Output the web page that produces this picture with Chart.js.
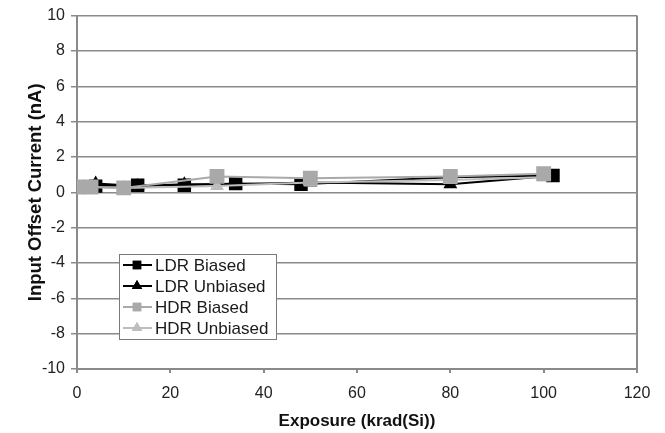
<!DOCTYPE html>
<html>
<head>
<meta charset="UTF-8">
<title>Input Offset Current</title>
<style>
  html, body { margin: 0; padding: 0; background: #fff; }
  #chart { display: block; }
</style>
</head>
<body>
<canvas id="chart" width="665" height="433"></canvas>
<script src="https://cdn.jsdelivr.net/npm/chart.js"></script>
<script>
// exposure (krad(Si)) and input offset current (nA) per series
const ldrBiasedX = [4, 13, 23, 34, 48, 80, 102];
const ldrBiasedY = [0.35, 0.4, 0.4, 0.5, 0.45, 0.85, 0.95];
const ldrUnbiasedX = [4, 13, 23, 34, 50, 80, 100];
const ldrUnbiasedY = [0.5, 0.35, 0.45, 0.45, 0.55, 0.45, 0.9];
const hdrBiasedX = [0, 3, 10, 30, 50, 80, 100];
const hdrBiasedY = [0.3, 0.3, 0.25, 0.9, 0.8, 0.9, 1.05];
const hdrUnbiasedX = [0, 3, 10, 30, 50, 80, 100];
const hdrUnbiasedY = [0.3, 0.3, 0.25, 0.35, 0.55, 0.7, 0.85];

const xTitle = 'Exposure (krad(Si))';
const yTitle = 'Input Offset Current (nA)';

function pts(xs, ys) {
    return xs.map((x, i) => ({ x: x, y: ys[i] }));
}

const gridGray = '#8a8a8a';
const black = '#000000';
const gray = '#a9a9a9';
const lightGray = '#bdbdbd';

// legend drawn inside the plot area, like the original
const boxLegend = {
    id: 'boxLegend',
    afterDatasetsDraw(chart) {
        const ctx = chart.ctx;
        const left = 119, top = 254, w = 157, h = 85;
        ctx.save();
        ctx.fillStyle = '#fff';
        ctx.fillRect(left, top, w, h);
        ctx.strokeStyle = '#7a7a7a';
        ctx.lineWidth = 1;
        ctx.strokeRect(left + 0.5, top + 0.5, w, h);
        ctx.font = '17px Arial, "Liberation Sans", sans-serif';
        ctx.textBaseline = 'middle';
        chart.data.datasets.forEach((ds, i) => {
            const y = top + 11 + i * 21;
            ctx.strokeStyle = ds.borderColor;
            ctx.lineWidth = 2;
            ctx.beginPath();
            ctx.moveTo(left + 4, y);
            ctx.lineTo(left + 33, y);
            ctx.stroke();
            ctx.fillStyle = ds.pointBackgroundColor;
            Chart.helpers.drawPoint(ctx, { pointStyle: ds.pointStyle, radius: 6, rotation: 0, borderWidth: 0 }, left + 18, y);
            ctx.fill();
            ctx.fillStyle = '#1a1a1a';
            ctx.fillText(ds.label, left + 36, y + 1);
        });
        ctx.restore();
    }
};

new Chart(document.getElementById('chart'), {
    type: 'scatter',
    data: {
        datasets: [
            { label: 'LDR Biased', data: pts(ldrBiasedX, ldrBiasedY), borderColor: black, backgroundColor: black,
              pointBackgroundColor: black, pointBorderColor: black, pointStyle: 'rect', pointRadius: 9.5, order: 4 },
            { label: 'LDR Unbiased', data: pts(ldrUnbiasedX, ldrUnbiasedY), borderColor: black, backgroundColor: black,
              pointBackgroundColor: black, pointBorderColor: black, pointStyle: 'triangle', pointRadius: 8, order: 3 },
            { label: 'HDR Biased', data: pts(hdrBiasedX, hdrBiasedY), borderColor: gray, backgroundColor: gray,
              pointBackgroundColor: gray, pointBorderColor: gray, pointStyle: 'rect', pointRadius: 10.5, order: 1 },
            { label: 'HDR Unbiased', data: pts(hdrUnbiasedX, hdrUnbiasedY), borderColor: lightGray, backgroundColor: lightGray,
              pointBackgroundColor: lightGray, pointBorderColor: lightGray, pointStyle: 'triangle', pointRadius: 8, order: 2 }
        ].map(ds => Object.assign(ds, { showLine: true, borderWidth: 2, pointBorderWidth: 0, tension: 0 }))
    },
    options: {
        responsive: false,
        animation: false,
        layout: { padding: { top: 15, right: 28, left: 0, bottom: 0 } },
        plugins: { legend: { display: false }, tooltip: { enabled: false } },
        scales: {
            x: {
                type: 'linear', min: 0, max: 120,
                ticks: { stepSize: 20, color: '#222', padding: 11, font: { size: 16, family: 'Arial' } },
                grid: {
                    drawOnChartArea: true, tickLength: 4, tickColor: gridGray,
                    color: c => (c.tick && c.tick.value === 120) ? gridGray : 'rgba(0,0,0,0)',
                    lineWidth: 2
                },
                border: { color: gridGray, width: 2 },
                title: { display: true, text: xTitle, color: '#111', padding: { top: 6, bottom: 1 },
                         font: { size: 17, weight: 'bold', family: 'Arial' } },
                afterFit: s => { s.height = 64; }
            },
            y: {
                min: -10, max: 10,
                ticks: { stepSize: 2, color: '#222', padding: 6, font: { size: 16, family: 'Arial' } },
                grid: { color: gridGray, tickColor: gridGray, tickLength: 6, lineWidth: 1.5 },
                border: { color: gridGray, width: 2 },
                title: { display: true, text: yTitle, color: '#111', padding: { top: 25, bottom: 0 },
                         font: { size: 18.5, weight: 'bold', family: 'Arial' } },
                afterFit: s => { s.width = 77; }
            }
        }
    },
    plugins: [boxLegend]
});
</script>
</body>
</html>
